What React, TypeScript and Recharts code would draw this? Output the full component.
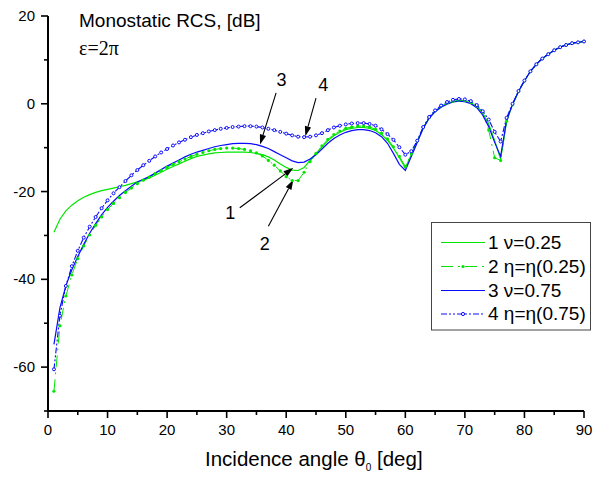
import { LineChart, Line, XAxis, YAxis, ReferenceLine, ReferenceDot } from 'recharts';

// incidence angles, deg
const angles = [
  1, 2, 3, 4, 5, 6, 7, 8, 9, 10, 11, 12, 13, 14, 15, 16, 17, 18, 19, 20,
  21, 22, 23, 24, 25, 26, 27, 28, 29, 30, 31, 32, 33, 34, 35, 36, 37, 38, 39, 40,
  41, 42, 43, 44, 45, 46, 47, 48, 49, 50, 51, 52, 53, 54, 55, 56, 57, 58, 59, 60,
  61, 62, 63, 64, 65, 66, 67, 68, 69, 70, 71, 72, 73, 74, 75, 76, 77, 78, 79, 80,
  81, 82, 83, 84, 85, 86, 87, 88, 89, 90,
];

// 1  nu = 0.25
const nu025 = [
  -29.3, -26.3, -24.4, -23.1, -22.1, -21.3, -20.7, -20.2, -19.8, -19.5,
  -19.2, -18.9, -18.6, -18.2, -17.8, -17.4, -16.9, -16.3, -15.6, -14.9,
  -14.3, -13.7, -13.1, -12.5, -12.0, -11.7, -11.4, -11.2, -11.1, -11.0,
  -11.0, -11.0, -11.0, -11.1, -11.3, -11.6, -12.1, -12.8, -13.7, -14.5,
  -15.1, -15.2, -14.5, -12.9, -11.3, -9.8, -8.4, -7.3, -6.5, -5.9,
  -5.6, -5.4, -5.4, -5.6, -6.1, -7.0, -8.3, -10.1, -12.3, -14.6,
  -11.6, -8.6, -5.5, -3.2, -1.7, -0.6, 0.1, 0.5, 0.7, 0.6,
  0.2, -0.6, -2.1, -4.6, -8.4, -12.6, -4.0, -0.2, 2.8, 5.2,
  7.4, 9.0, 10.3, 11.3, 12.2, 12.9, 13.4, 13.8, 14.0, 14.2,
];

// 2  eta = eta(0.25)
const eta025 = [
  -65.5, -50.6, -43.8, -39.0, -35.3, -32.4, -29.9, -27.7, -25.8, -24.1,
  -22.7, -21.4, -20.2, -19.2, -18.2, -17.4, -16.7, -15.9, -15.2, -14.5,
  -13.8, -13.2, -12.6, -12.0, -11.5, -11.1, -10.7, -10.4, -10.2, -10.1,
  -10.1, -10.2, -10.4, -10.7, -11.2, -11.9, -12.9, -14.0, -15.3, -16.6,
  -17.5, -17.5, -15.6, -13.2, -11.3, -9.6, -8.1, -7.0, -6.2, -5.6,
  -5.3, -5.1, -5.1, -5.3, -5.8, -6.7, -8.0, -9.8, -12.0, -14.3,
  -11.4, -8.4, -5.4, -3.1, -1.6, -0.5, 0.2, 0.6, 0.8, 0.7,
  0.3, -0.5, -2.0, -6.0, -12.3, -12.9, -4.0, -0.2, 2.8, 5.2,
  7.4, 9.0, 10.3, 11.3, 12.2, 12.9, 13.4, 13.8, 14.0, 14.2,
];

// 3  nu = 0.75
const nu075 = [
  -54.8, -46.5, -41.5, -37.8, -34.8, -32.0, -29.5, -27.3, -25.3, -23.6,
  -22.2, -20.9, -19.8, -18.8, -17.8, -17.2, -16.6, -15.8, -15.0, -14.2,
  -13.5, -12.8, -12.1, -11.5, -11.0, -10.6, -10.2, -9.8, -9.5, -9.3,
  -9.1, -9.0, -9.0, -9.1, -9.3, -9.7, -10.2, -10.9, -11.6, -12.3,
  -13.0, -13.4, -13.3, -12.6, -11.6, -10.3, -9.0, -7.9, -7.1, -6.5,
  -6.1, -5.9, -5.9, -6.1, -6.6, -7.5, -9.0, -11.3, -13.8, -15.2,
  -12.0, -8.8, -5.6, -3.3, -1.8, -0.8, -0.1, 0.4, 0.6, 0.5,
  0.0, -0.9, -2.6, -5.2, -8.8, -12.0, -3.8, -0.1, 2.8, 5.2,
  7.4, 9.0, 10.3, 11.3, 12.2, 12.9, 13.4, 13.8, 14.0, 14.2,
];

// 4  eta = eta(0.75)
const eta075 = [
  -60.5, -48.3, -41.5, -37.0, -33.5, -30.5, -28.0, -25.8, -23.8, -22.0,
  -20.4, -19.0, -17.6, -16.3, -15.1, -14.0, -13.0, -12.0, -11.1, -10.3,
  -9.5, -8.8, -8.2, -7.6, -7.1, -6.7, -6.3, -6.0, -5.7, -5.5,
  -5.3, -5.2, -5.1, -5.1, -5.2, -5.4, -5.7, -6.0, -6.4, -6.8,
  -7.2, -7.5, -7.6, -7.5, -7.2, -6.7, -6.0, -5.4, -5.0, -4.7,
  -4.5, -4.4, -4.4, -4.6, -5.0, -5.8, -6.9, -8.2, -9.9, -11.6,
  -10.8, -8.4, -5.3, -3.0, -1.5, -0.4, 0.4, 0.9, 1.1, 1.0,
  0.6, -0.3, -1.7, -3.6, -6.4, -8.6, -3.2, 0.0, 2.9, 5.3,
  7.4, 9.0, 10.3, 11.3, 12.2, 12.9, 13.4, 13.8, 14.0, 14.2,
];

const xTicks = [0, 5, 10, 15, 20, 25, 30, 35, 40, 45, 50, 55, 60, 65, 70, 75, 80, 85, 90];
const yTicks = [-70, -60, -50, -40, -30, -20, -10, 0, 10, 20];

const legendLabels = ['1 ν=0.25', '2 η=η(0.25)', '3 ν=0.75', '4 η=η(0.75)'];

// numbered arrows: label position, arrow tail, arrow tip (data coords)
const arrowLabels = ['3', '4', '1', '2'];
const arrowLabelX = [39.2, 46.2, 30.6, 36.4];
const arrowLabelY = [5.5, 4.3, -24.8, -31.8];
const arrowFromX = [38.3, 45.0, 32.2, 37.0];
const arrowFromY = [2.5, 1.3, -23.7, -27.9];
const arrowToX = [35.6, 43.2, 41.2, 41.2];
const arrowToY = [-9.3, -7.4, -14.6, -17.3];

const data = angles.map((a, i) => ({
  angle: a,
  s1: nu025[i],
  s2: eta025[i],
  s3: nu075[i],
  s4: eta075[i],
}));

const GREEN = '#00e600';
const BLUE = '#0a0aff';
const FONT = 'Arial, "Liberation Sans", sans-serif';

const XTick = (props: any) => {
  const { x, y, payload } = props;
  const major = payload.value % 10 === 0;
  return (
    <g>
      <line x1={x} x2={x} y1={y} y2={y + (major ? 7 : 4)} stroke="#000" strokeWidth={1.6} />
      {major && (
        <text x={x} y={y + 24} textAnchor="middle" fontSize={15} fontFamily={FONT} fill="#000">
          {payload.value}
        </text>
      )}
    </g>
  );
};

const YTick = (props: any) => {
  const { x, y, payload } = props;
  const major = payload.value % 20 === 0;
  return (
    <g>
      <line x1={x - (major ? 7 : 4)} x2={x} y1={y} y2={y} stroke="#000" strokeWidth={1.6} />
      {major && (
        <text x={x - 13} y={y + 5} textAnchor="end" fontSize={15} fontFamily={FONT} fill="#000">
          {payload.value}
        </text>
      )}
    </g>
  );
};

const Arrow = (props: any) => {
  const { x1, y1, x2, y2 } = props;
  const ang = Math.atan2(y2 - y1, x2 - x1);
  const len = 10;
  const w = 3.2;
  const bx = x2 - len * Math.cos(ang);
  const by = y2 - len * Math.sin(ang);
  const px = -Math.sin(ang) * w;
  const py = Math.cos(ang) * w;
  return (
    <g>
      <line x1={x1} y1={y1} x2={bx} y2={by} stroke="#000" strokeWidth={1.1} />
      <polygon points={`${x2},${y2} ${bx + px},${by + py} ${bx - px},${by - py}`} fill="#000" />
    </g>
  );
};

const LegendBox = () => {
  const rows = [248.5, 272.5, 296.5, 320];
  return (
    <g fontFamily={FONT} fontSize={19} fill="#000">
      <rect x={431.5} y={222.5} width={159} height={107.5} fill="#fff" stroke="#444" strokeWidth={1} />
      {/* 1 */}
      <line x1={441} x2={485} y1={rows[0] - 6} y2={rows[0] - 6} stroke={GREEN} strokeWidth={1.2} />
      {/* 2 */}
      <line x1={441} x2={485} y1={rows[1] - 6} y2={rows[1] - 6} stroke={GREEN} strokeWidth={1} strokeDasharray="12 5 2 5" />
      <circle cx={463} cy={rows[1] - 6} r={1.6} fill={GREEN} />
      {/* 3 */}
      <line x1={441} x2={485} y1={rows[2] - 6} y2={rows[2] - 6} stroke={BLUE} strokeWidth={1.2} />
      {/* 4 */}
      <line x1={441} x2={485} y1={rows[3] - 6} y2={rows[3] - 6} stroke={BLUE} strokeWidth={1} strokeDasharray="6 2 2 2 2 2" />
      <circle cx={463} cy={rows[3] - 6} r={1.6} fill="#fff" stroke={BLUE} strokeWidth={1} />
      {legendLabels.map((t, i) => (
        <text key={t} x={488} y={rows[i]}>
          {t}
        </text>
      ))}
    </g>
  );
};

export default function App() {
  return (
    <div style={{ position: 'absolute', left: 0, top: 0, width: 593, height: 479, background: '#fff' }}>
      <LineChart width={593} height={479} data={data} margin={{ top: 16, right: 9, bottom: 0, left: 0 }}>
        <XAxis
          dataKey="angle"
          type="number"
          domain={[0, 90]}
          ticks={xTicks}
          interval={0}
          height={68}
          tickSize={0}
          tickMargin={0}
          tickLine={false}
          tick={<XTick />}
          axisLine={{ stroke: '#000', strokeWidth: 2 }}
        />
        <YAxis
          type="number"
          domain={[-70, 20]}
          ticks={yTicks}
          interval={0}
          width={48}
          tickSize={0}
          tickMargin={0}
          tickLine={false}
          tick={<YTick />}
          axisLine={{ stroke: '#000', strokeWidth: 2 }}
        />
        <Line
          dataKey="s1"
          type="linear"
          stroke={GREEN}
          strokeWidth={1.2}
          dot={false}
          activeDot={false}
          isAnimationActive={false}
        />
        <Line
          dataKey="s2"
          type="linear"
          stroke={GREEN}
          strokeWidth={1}
          strokeDasharray="12 5 2 5"
          dot={{ r: 1.6, fill: GREEN, stroke: GREEN, strokeWidth: 0, strokeDasharray: 'none' }}
          activeDot={false}
          isAnimationActive={false}
        />
        <Line
          dataKey="s3"
          type="linear"
          stroke={BLUE}
          strokeWidth={1.2}
          dot={false}
          activeDot={false}
          isAnimationActive={false}
        />
        <Line
          dataKey="s4"
          type="linear"
          stroke={BLUE}
          strokeWidth={1.1}
          strokeDasharray="6 2 2 2 2 2"
          dot={{ r: 1.5, fill: '#fff', stroke: BLUE, strokeWidth: 1, strokeDasharray: 'none' }}
          activeDot={false}
          isAnimationActive={false}
        />
        {arrowLabels.map((lab, i) => (
          <ReferenceLine
            key={'a' + lab}
            segment={[
              { x: arrowFromX[i], y: arrowFromY[i] },
              { x: arrowToX[i], y: arrowToY[i] },
            ]}
            shape={Arrow}
            ifOverflow="visible"
          />
        ))}
        {arrowLabels.map((lab, i) => (
          <ReferenceDot
            key={'l' + lab}
            x={arrowLabelX[i]}
            y={arrowLabelY[i]}
            r={0}
            ifOverflow="visible"
            shape={(p: any) => (
              <text x={p.cx} y={p.cy + 6.5} textAnchor="middle" fontSize={18} fontFamily={FONT} fill="#000">
                {lab}
              </text>
            )}
          />
        ))}
      </LineChart>
      <svg
        width={593}
        height={479}
        style={{ position: 'absolute', left: 0, top: 0, pointerEvents: 'none' }}
      >
        <text x={79} y={27} fontSize={19} fontFamily={FONT} fill="#000">
          Monostatic RCS, [dB]
        </text>
        <text x={79} y={55} fontSize={20} fontFamily='"Times New Roman", "Liberation Serif", serif' fill="#000">
          ε=2π
        </text>
        <text x={205} y={466} fontSize={20.5} fontFamily={FONT} fill="#000">
          Incidence angle θ
          <tspan dy={5} fontSize={10}>0</tspan>
          <tspan dy={-5}> [deg]</tspan>
        </text>
        <LegendBox />
      </svg>
    </div>
  );
}
